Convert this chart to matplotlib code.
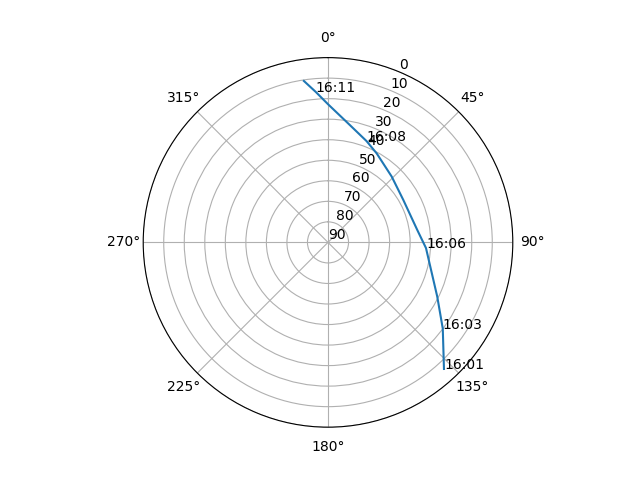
import numpy as np
import matplotlib
matplotlib.use("Agg")
import matplotlib.pyplot as plt

# satellite track: azimuth (deg) and elevation (deg)
azimuth = [137.5, 126.9, 116.4, 93.3, 82.1, 60.6, 44.1, 28.7, 20.8, 10.6, 0.0, 355.3, 351.5]
elevation = [6.4, 20.1, 30.6, 42.2, 46.1, 47.9, 45.4, 40.6, 37.2, 31.9, 22.7, 16.4, 10.5]

label_times = ["16:01", "16:03", "16:06", "16:08", "16:11"]
label_az = [137.5, 126.9, 93.3, 20.8, 355.3]
label_el = [6.4, 20.1, 42.2, 37.2, 16.4]

r_ticks = list(range(0, 91, 10))

fig = plt.figure(figsize=(6.4, 4.8), dpi=100)
ax = fig.add_subplot(projection='polar')
ax.set_theta_zero_location('N')
ax.set_theta_direction(-1)
ax.plot(np.radians(azimuth), elevation)
for t, a, e in zip(label_times, label_az, label_el):
    ax.text(np.radians(a), e, t)
ax.set_ylim(90, 0)
ax.set_yticks(r_ticks)
ax.grid(True)
fig.savefig("out.png")
